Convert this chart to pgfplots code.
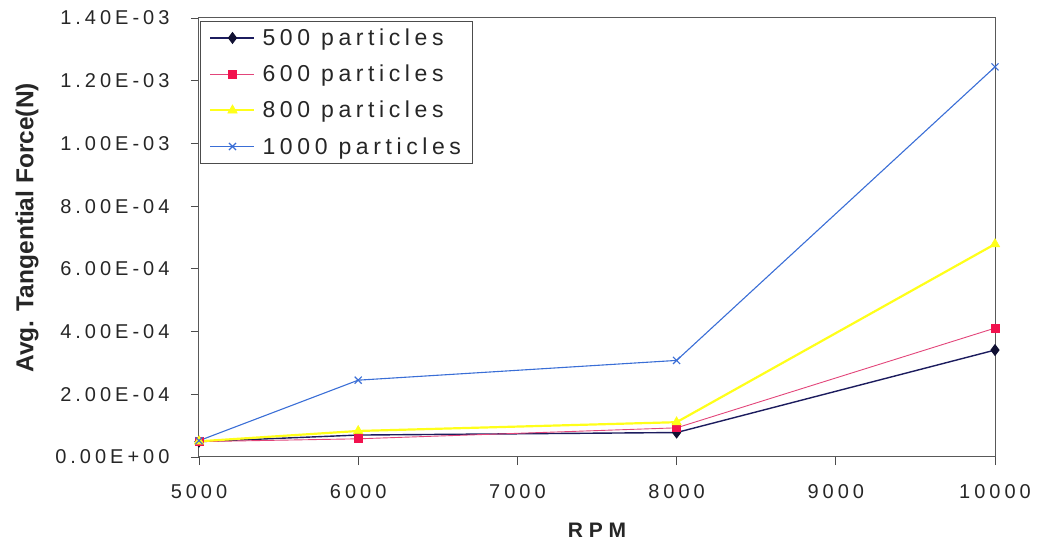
\documentclass[border=0pt]{standalone}
\usepackage{fontspec}
\setmainfont{Liberation Sans}
\usepackage{pgfplots}
\pgfplotsset{compat=1.18}
\definecolor{navyline}{HTML}{1C1C5E}
\definecolor{navymark}{HTML}{111133}
\definecolor{pinkline}{HTML}{E2457A}
\definecolor{pinkmark}{HTML}{F2124E}
\definecolor{yel}{HTML}{FFFF1A}
\definecolor{blueline}{HTML}{3A6ED6}
\begin{document}
\begin{tikzpicture}
\useasboundingbox (-199pt,-89pt) rectangle (838pt,457pt);
\begin{axis}[
  scale only axis, width=796pt, height=439pt,
  at={(0pt,0pt)}, anchor=south west,
  xmin=5000, xmax=10000, ymin=0, ymax=0.0014,
  xtick={5000,6000,7000,8000,9000,10000},
  xticklabels={5000,6000,7000,8000,9000,10000},
  ytick={0,0.0002,0.0004,0.0006,0.0008,0.001,0.0012,0.0014},
  yticklabels={0.00E+00,2.00E-04,4.00E-04,6.00E-04,8.00E-04,1.00E-03,1.20E-03,1.40E-03},
  scaled y ticks=false, scaled x ticks=false,
  tick align=outside, major tick length=8pt,
  tick style={draw=black!70, line width=0.8pt},
  xtick pos=bottom, ytick pos=left,
  axis line style={draw=black!65, line width=1pt},
  tick label style={font=\fontsize{20}{24}\selectfont\addfontfeature{LetterSpace=20}, text=black!85},
  xticklabel style={anchor=center, yshift=-27pt},
  yticklabel style={anchor=east, xshift=-18pt},
  xlabel={\addfontfeature{LetterSpace=28}RPM},
  ylabel={Avg. Tangential Force(N)},
  every axis x label/.style={at={(axis description cs:0.5,0)}, yshift=-73pt, anchor=center, font=\fontsize{21}{25}\selectfont\bfseries, text=black!85},
  every axis y label/.style={at={(axis description cs:0,0.522)}, xshift=-172pt, rotate=90, anchor=center, font=\fontsize{24.5}{28}\selectfont\bfseries, text=black!85},
  legend style={at={(rel axis cs:0,1)}, anchor=north west, xshift=1pt, yshift=-3pt,
    draw=black!70, line width=0.8pt, fill=white,
    font=\fontsize{23}{27}\selectfont\addfontfeature{LetterSpace=20},
    inner xsep=9pt, inner ysep=5.5pt, row sep=14pt, text=black!85},
  legend cell align=left,
  legend image code/.code={\draw[mark repeat=2,mark phase=2] plot coordinates {(0pt,0pt) (22pt,0pt) (44pt,0pt)}; \path (49pt,0pt);},
]
\addplot[color=navyline, line width=1.4pt, mark=diamond*, mark size=5pt, mark options={fill=navymark, draw=navymark}]
  coordinates {(5000,0.000049) (6000,0.000070) (8000,0.000078) (10000,0.000341)};
\addlegendentry{500 particles}
\addplot[color=pinkline, line width=0.9pt, mark=square*, mark size=4pt, mark options={fill=pinkmark, draw=pinkmark}]
  coordinates {(5000,0.000049) (6000,0.000058) (8000,0.000093) (10000,0.000411)};
\addlegendentry{600 particles}
\addplot[color=yel, line width=2.2pt, mark=triangle*, mark size=5.5pt, mark options={fill=yel, draw=yel, line width=0.5pt}]
  coordinates {(5000,0.000050) (6000,0.000083) (8000,0.000111) (10000,0.000679)};
\addlegendentry{800 particles}
\addplot[color=blueline, line width=1.1pt, mark=x, mark size=5pt, mark options={line width=1.1pt}]
  coordinates {(5000,0.000052) (6000,0.000245) (8000,0.000308) (10000,0.001244)};
\addlegendentry{1000 particles}
\end{axis}
\end{tikzpicture}
\end{document}
